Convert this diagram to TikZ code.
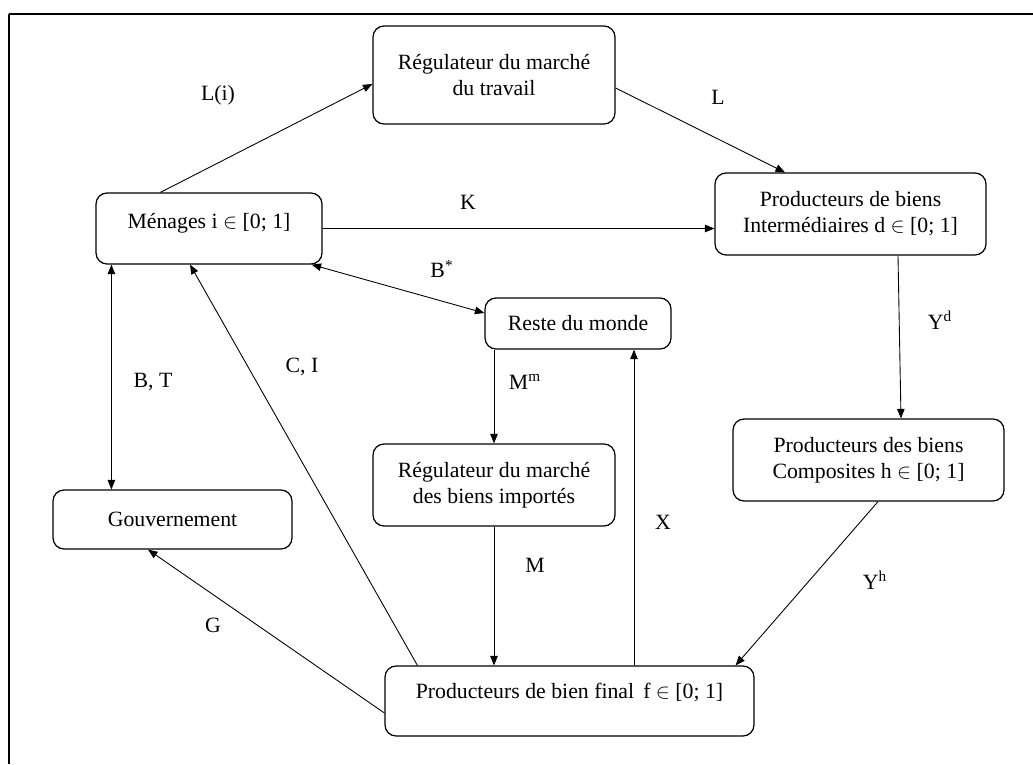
\documentclass[tikz,border=0pt]{standalone}
\usepackage{fontspec}
\setmainfont{Liberation Serif}
\usetikzlibrary{arrows.meta}
\begin{document}
\begin{tikzpicture}[x=0.02cm,y=-0.02cm,>={Triangle[length=1.9mm,width=1.5mm]},
  bloc/.style={draw,line width=.7pt,rounded corners=.22cm,align=center,inner sep=0pt,font=\fontsize{12.4}{14.8}\selectfont},
  flux/.style={->,line width=.5pt},
  lab/.style={font=\fontsize{12.4}{14.8}\selectfont}]
\useasboundingbox (0,0) rectangle (1033,764);
\draw[line width=.9pt] (1033,14)--(9,14);
\draw[line width=1.5pt] (9,14)--(9,764);
\node[bloc,minimum width=4.84cm,minimum height=1.96cm] (trav) at (494,75) {Régulateur du marché\\du travail};
\node[bloc,minimum width=4.52cm,minimum height=1.42cm,text depth=.3cm] (men) at (209,228.5) {Ménages i $\in$ [0; 1]};
\node[bloc,minimum width=5.42cm,minimum height=1.64cm] (inter) at (850.5,214) {Producteurs de biens\\Intermédiaires d $\in$ [0; 1]};
\node[bloc,minimum width=3.72cm,minimum height=1.02cm] (reste) at (578,323.5) {Reste du monde};
\node[bloc,minimum width=4.84cm,minimum height=1.64cm] (impo) at (494,485) {Régulateur du marché\\des biens importés};
\node[bloc,minimum width=4.78cm,minimum height=1.18cm] (gouv) at (172.5,519.5) {Gouvernement};
\node[bloc,minimum width=5.42cm,minimum height=1.64cm] (compo) at (868.5,460) {Producteurs des biens\\Composites h $\in$ [0; 1]};
\node[bloc,minimum width=7.38cm,minimum height=1.4cm,text depth=.42cm] (final) at (569.5,701) {Producteurs de bien final\, f $\in$ [0; 1]};
\coordinate (bt) at ([xshift=.32cm]men.south west);
\coordinate (xp) at ([xshift=1.29cm]final.north);
\draw[flux] ([xshift=1.3cm]men.north west)--([yshift=-.18cm]trav.west);
\draw[flux] ([yshift=-.26cm]trav.east)--([xshift=-1.31cm]inter.north);
\draw[flux] (men.east)--(men.east -| inter.west);
\draw[flux,<->] ([xshift=-.22cm]men.south east)--([yshift=.21cm]reste.west);
\draw[flux,<->] (bt)--(bt |- gouv.north);
\draw[flux] ([xshift=.66cm]final.north west)--([xshift=-.38cm]men.south);
\draw[flux] ([yshift=-.24cm]final.west)--([xshift=-.49cm]gouv.south);
\draw[flux] (reste.south -| impo.north)--(impo.north);
\draw[flux] (impo.south)--(impo.south |- final.north);
\draw[flux] (xp)--(xp |- reste.south);
\draw[flux] ([xshift=.95cm]inter.south)--([xshift=.65cm]compo.north);
\draw[flux] ([xshift=.19cm]compo.south)--([xshift=-.38cm]final.north east);
\node[lab] (li) at (218,95) {L(i)};
\node[lab] (l) at (718,97) {L};
\node[lab] (k) at (468,202) {K};
\node[lab] (bs) at (442,269) {B\textsuperscript{*}};
\node[lab] (bt-l) at (153,382) {B, T};
\node[lab] (ci) at (302,367) {C, I};
\node[lab] (g) at (213,625) {G};
\node[lab] (mm) at (525,382) {M\textsuperscript{m}};
\node[lab] (m) at (535,565) {M};
\node[lab] (x) at (663,522) {X};
\node[lab] (yd) at (940,320) {Y\textsuperscript{d}};
\node[lab] (yh) at (875,580) {Y\textsuperscript{h}};
\end{tikzpicture}
\end{document}
